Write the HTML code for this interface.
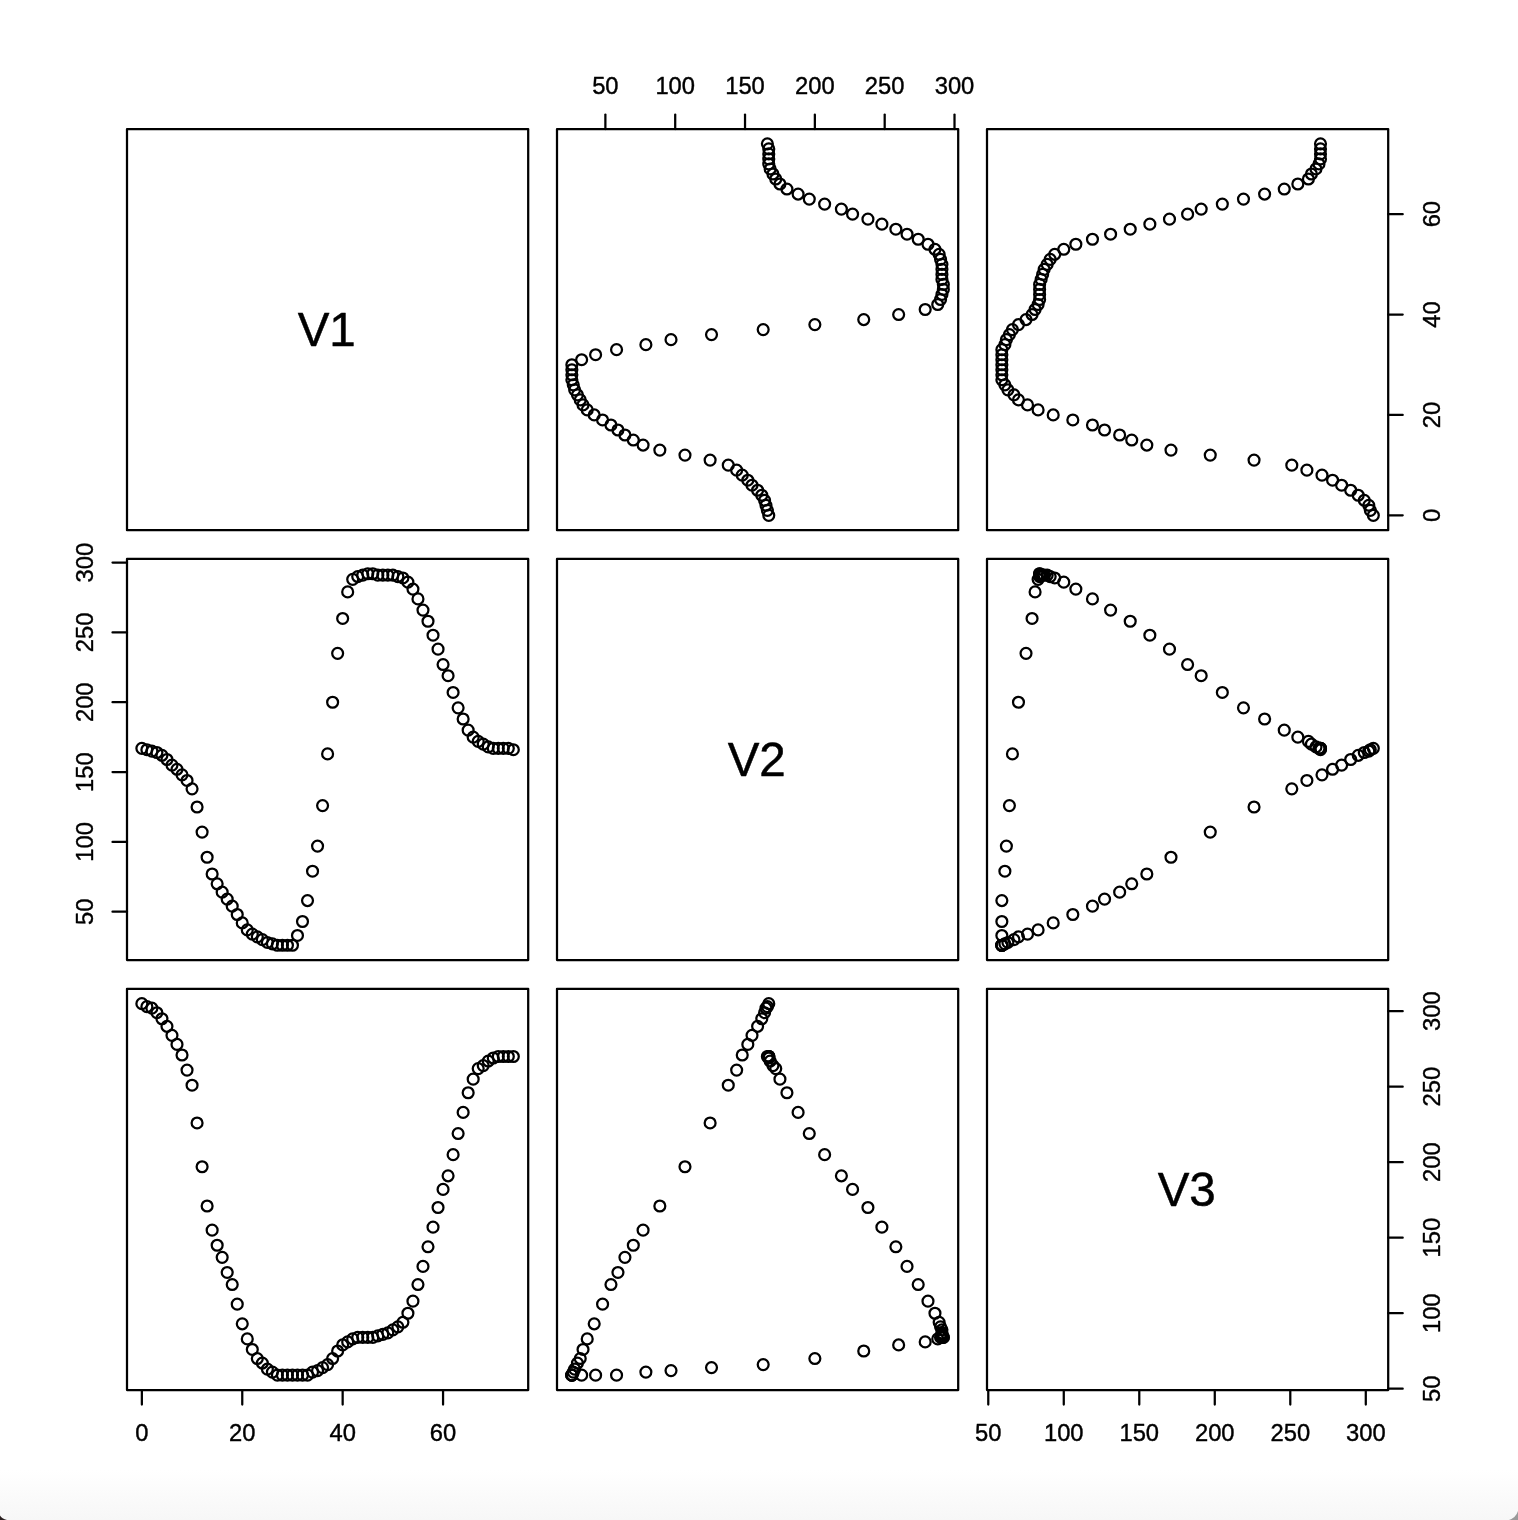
<!DOCTYPE html>
<html lang="en"><head><meta charset="utf-8"><title>pairs plot</title>
<style>html,body{margin:0;padding:0;background:#fff;}body{width:1518px;height:1520px;overflow:hidden;}svg{display:block;}</style>
</head><body>
<svg width="1518" height="1520" viewBox="0 0 1518 1520">
<defs><linearGradient id="g" x1="0" y1="0" x2="0" y2="1"><stop offset="0" stop-color="#ffffff"/><stop offset="1" stop-color="#f7f7f7"/></linearGradient></defs>
<rect x="0" y="0" width="1518" height="1520" fill="#ffffff"/>
<rect x="0" y="1470" width="1518" height="50" fill="url(#g)"/>
<path d="M0 1520 L0 1515.6 Q1.8 1519 7 1520 Z" fill="#2a1f1f"/>
<path d="M1518 1520 L1518 1511 Q1516 1517.5 1509 1520 Z" fill="#9a9a9a"/>
<g fill="none" stroke="#000" stroke-width="2.25" stroke-linejoin="round" stroke-linecap="round">
<rect x="127.00" y="129.00" width="401.20" height="401.20"/>
<rect x="557.00" y="129.00" width="401.20" height="401.20"/>
<rect x="987.00" y="129.00" width="401.20" height="401.20"/>
<rect x="127.00" y="558.90" width="401.20" height="401.20"/>
<rect x="557.00" y="558.90" width="401.20" height="401.20"/>
<rect x="987.00" y="558.90" width="401.20" height="401.20"/>
<rect x="127.00" y="988.80" width="401.20" height="401.20"/>
<rect x="557.00" y="988.80" width="401.20" height="401.20"/>
<rect x="987.00" y="988.80" width="401.20" height="401.20"/>
<path d="M605.38 129.00V114.50"/>
<path d="M675.20 129.00V114.50"/>
<path d="M745.03 129.00V114.50"/>
<path d="M814.86 129.00V114.50"/>
<path d="M884.69 129.00V114.50"/>
<path d="M954.51 129.00V114.50"/>
<path d="M141.86 1390.00V1404.50"/>
<path d="M242.26 1390.00V1404.50"/>
<path d="M342.66 1390.00V1404.50"/>
<path d="M443.06 1390.00V1404.50"/>
<path d="M988.27 1390.00V1404.50"/>
<path d="M1063.77 1390.00V1404.50"/>
<path d="M1139.28 1390.00V1404.50"/>
<path d="M1214.78 1390.00V1404.50"/>
<path d="M1290.29 1390.00V1404.50"/>
<path d="M1365.79 1390.00V1404.50"/>
<path d="M127.00 911.72H112.50"/>
<path d="M127.00 841.90H112.50"/>
<path d="M127.00 772.07H112.50"/>
<path d="M127.00 702.24H112.50"/>
<path d="M127.00 632.41H112.50"/>
<path d="M127.00 562.59H112.50"/>
<path d="M1388.20 515.34H1402.70"/>
<path d="M1388.20 414.94H1402.70"/>
<path d="M1388.20 314.54H1402.70"/>
<path d="M1388.20 214.14H1402.70"/>
<path d="M1388.20 1388.73H1402.70"/>
<path d="M1388.20 1313.23H1402.70"/>
<path d="M1388.20 1237.72H1402.70"/>
<path d="M1388.20 1162.22H1402.70"/>
<path d="M1388.20 1086.71H1402.70"/>
<path d="M1388.20 1011.21H1402.70"/>
</g>
<g fill="none" stroke="#000" stroke-width="2.25">
<circle cx="768.77" cy="515.34" r="5.45"/>
<circle cx="767.38" cy="510.32" r="5.45"/>
<circle cx="765.98" cy="505.30" r="5.45"/>
<circle cx="764.58" cy="500.28" r="5.45"/>
<circle cx="761.79" cy="495.26" r="5.45"/>
<circle cx="757.60" cy="490.24" r="5.45"/>
<circle cx="752.01" cy="485.22" r="5.45"/>
<circle cx="747.82" cy="480.20" r="5.45"/>
<circle cx="742.24" cy="475.18" r="5.45"/>
<circle cx="736.65" cy="470.16" r="5.45"/>
<circle cx="728.27" cy="465.14" r="5.45"/>
<circle cx="710.12" cy="460.12" r="5.45"/>
<circle cx="684.98" cy="455.10" r="5.45"/>
<circle cx="659.84" cy="450.08" r="5.45"/>
<circle cx="643.08" cy="445.06" r="5.45"/>
<circle cx="633.31" cy="440.04" r="5.45"/>
<circle cx="624.93" cy="435.02" r="5.45"/>
<circle cx="617.95" cy="430.00" r="5.45"/>
<circle cx="610.96" cy="424.98" r="5.45"/>
<circle cx="602.58" cy="419.96" r="5.45"/>
<circle cx="594.20" cy="414.94" r="5.45"/>
<circle cx="587.22" cy="409.92" r="5.45"/>
<circle cx="583.03" cy="404.90" r="5.45"/>
<circle cx="580.24" cy="399.88" r="5.45"/>
<circle cx="577.45" cy="394.86" r="5.45"/>
<circle cx="574.65" cy="389.84" r="5.45"/>
<circle cx="573.26" cy="384.82" r="5.45"/>
<circle cx="571.86" cy="379.80" r="5.45"/>
<circle cx="571.86" cy="374.78" r="5.45"/>
<circle cx="571.86" cy="369.76" r="5.45"/>
<circle cx="571.86" cy="364.74" r="5.45"/>
<circle cx="581.64" cy="359.72" r="5.45"/>
<circle cx="595.60" cy="354.70" r="5.45"/>
<circle cx="616.55" cy="349.68" r="5.45"/>
<circle cx="645.88" cy="344.66" r="5.45"/>
<circle cx="671.01" cy="339.64" r="5.45"/>
<circle cx="711.51" cy="334.62" r="5.45"/>
<circle cx="763.19" cy="329.60" r="5.45"/>
<circle cx="814.86" cy="324.58" r="5.45"/>
<circle cx="863.74" cy="319.56" r="5.45"/>
<circle cx="898.65" cy="314.54" r="5.45"/>
<circle cx="925.19" cy="309.52" r="5.45"/>
<circle cx="937.75" cy="304.50" r="5.45"/>
<circle cx="940.55" cy="299.48" r="5.45"/>
<circle cx="941.94" cy="294.46" r="5.45"/>
<circle cx="943.34" cy="289.44" r="5.45"/>
<circle cx="943.34" cy="284.42" r="5.45"/>
<circle cx="941.94" cy="279.40" r="5.45"/>
<circle cx="941.94" cy="274.38" r="5.45"/>
<circle cx="941.94" cy="269.36" r="5.45"/>
<circle cx="941.94" cy="264.34" r="5.45"/>
<circle cx="940.55" cy="259.32" r="5.45"/>
<circle cx="939.15" cy="254.30" r="5.45"/>
<circle cx="934.96" cy="249.28" r="5.45"/>
<circle cx="927.98" cy="244.26" r="5.45"/>
<circle cx="918.20" cy="239.24" r="5.45"/>
<circle cx="907.03" cy="234.22" r="5.45"/>
<circle cx="895.86" cy="229.20" r="5.45"/>
<circle cx="881.89" cy="224.18" r="5.45"/>
<circle cx="867.93" cy="219.16" r="5.45"/>
<circle cx="852.57" cy="214.14" r="5.45"/>
<circle cx="841.39" cy="209.12" r="5.45"/>
<circle cx="824.63" cy="204.10" r="5.45"/>
<circle cx="809.27" cy="199.08" r="5.45"/>
<circle cx="798.10" cy="194.06" r="5.45"/>
<circle cx="786.93" cy="189.04" r="5.45"/>
<circle cx="779.94" cy="184.02" r="5.45"/>
<circle cx="775.76" cy="179.00" r="5.45"/>
<circle cx="772.96" cy="173.98" r="5.45"/>
<circle cx="770.17" cy="168.96" r="5.45"/>
<circle cx="768.77" cy="163.94" r="5.45"/>
<circle cx="768.77" cy="158.92" r="5.45"/>
<circle cx="768.77" cy="153.90" r="5.45"/>
<circle cx="768.77" cy="148.88" r="5.45"/>
<circle cx="767.38" cy="143.86" r="5.45"/>
<circle cx="1373.34" cy="515.34" r="5.45"/>
<circle cx="1370.32" cy="510.32" r="5.45"/>
<circle cx="1368.81" cy="505.30" r="5.45"/>
<circle cx="1364.28" cy="500.28" r="5.45"/>
<circle cx="1358.24" cy="495.26" r="5.45"/>
<circle cx="1350.69" cy="490.24" r="5.45"/>
<circle cx="1341.63" cy="485.22" r="5.45"/>
<circle cx="1332.57" cy="480.20" r="5.45"/>
<circle cx="1322.00" cy="475.18" r="5.45"/>
<circle cx="1306.90" cy="470.16" r="5.45"/>
<circle cx="1291.80" cy="465.14" r="5.45"/>
<circle cx="1254.04" cy="460.12" r="5.45"/>
<circle cx="1210.25" cy="455.10" r="5.45"/>
<circle cx="1170.99" cy="450.08" r="5.45"/>
<circle cx="1146.83" cy="445.06" r="5.45"/>
<circle cx="1131.73" cy="440.04" r="5.45"/>
<circle cx="1119.65" cy="435.02" r="5.45"/>
<circle cx="1104.55" cy="430.00" r="5.45"/>
<circle cx="1092.46" cy="424.98" r="5.45"/>
<circle cx="1072.83" cy="419.96" r="5.45"/>
<circle cx="1053.20" cy="414.94" r="5.45"/>
<circle cx="1038.10" cy="409.92" r="5.45"/>
<circle cx="1027.53" cy="404.90" r="5.45"/>
<circle cx="1018.47" cy="399.88" r="5.45"/>
<circle cx="1013.94" cy="394.86" r="5.45"/>
<circle cx="1007.90" cy="389.84" r="5.45"/>
<circle cx="1004.88" cy="384.82" r="5.45"/>
<circle cx="1001.86" cy="379.80" r="5.45"/>
<circle cx="1001.86" cy="374.78" r="5.45"/>
<circle cx="1001.86" cy="369.76" r="5.45"/>
<circle cx="1001.86" cy="364.74" r="5.45"/>
<circle cx="1001.86" cy="359.72" r="5.45"/>
<circle cx="1001.86" cy="354.70" r="5.45"/>
<circle cx="1001.86" cy="349.68" r="5.45"/>
<circle cx="1004.88" cy="344.66" r="5.45"/>
<circle cx="1006.39" cy="339.64" r="5.45"/>
<circle cx="1009.41" cy="334.62" r="5.45"/>
<circle cx="1012.43" cy="329.60" r="5.45"/>
<circle cx="1018.47" cy="324.58" r="5.45"/>
<circle cx="1026.02" cy="319.56" r="5.45"/>
<circle cx="1032.06" cy="314.54" r="5.45"/>
<circle cx="1035.08" cy="309.52" r="5.45"/>
<circle cx="1038.10" cy="304.50" r="5.45"/>
<circle cx="1039.61" cy="299.48" r="5.45"/>
<circle cx="1039.61" cy="294.46" r="5.45"/>
<circle cx="1039.61" cy="289.44" r="5.45"/>
<circle cx="1039.61" cy="284.42" r="5.45"/>
<circle cx="1041.12" cy="279.40" r="5.45"/>
<circle cx="1042.63" cy="274.38" r="5.45"/>
<circle cx="1044.14" cy="269.36" r="5.45"/>
<circle cx="1047.16" cy="264.34" r="5.45"/>
<circle cx="1050.18" cy="259.32" r="5.45"/>
<circle cx="1054.71" cy="254.30" r="5.45"/>
<circle cx="1063.77" cy="249.28" r="5.45"/>
<circle cx="1075.85" cy="244.26" r="5.45"/>
<circle cx="1092.46" cy="239.24" r="5.45"/>
<circle cx="1110.59" cy="234.22" r="5.45"/>
<circle cx="1130.22" cy="229.20" r="5.45"/>
<circle cx="1149.85" cy="224.18" r="5.45"/>
<circle cx="1169.48" cy="219.16" r="5.45"/>
<circle cx="1187.60" cy="214.14" r="5.45"/>
<circle cx="1201.19" cy="209.12" r="5.45"/>
<circle cx="1222.33" cy="204.10" r="5.45"/>
<circle cx="1243.47" cy="199.08" r="5.45"/>
<circle cx="1264.61" cy="194.06" r="5.45"/>
<circle cx="1284.25" cy="189.04" r="5.45"/>
<circle cx="1297.84" cy="184.02" r="5.45"/>
<circle cx="1308.41" cy="179.00" r="5.45"/>
<circle cx="1311.43" cy="173.98" r="5.45"/>
<circle cx="1315.96" cy="168.96" r="5.45"/>
<circle cx="1318.98" cy="163.94" r="5.45"/>
<circle cx="1320.49" cy="158.92" r="5.45"/>
<circle cx="1320.49" cy="153.90" r="5.45"/>
<circle cx="1320.49" cy="148.88" r="5.45"/>
<circle cx="1320.49" cy="143.86" r="5.45"/>
<circle cx="141.86" cy="748.33" r="5.45"/>
<circle cx="146.88" cy="749.72" r="5.45"/>
<circle cx="151.90" cy="751.12" r="5.45"/>
<circle cx="156.92" cy="752.52" r="5.45"/>
<circle cx="161.94" cy="755.31" r="5.45"/>
<circle cx="166.96" cy="759.50" r="5.45"/>
<circle cx="171.98" cy="765.09" r="5.45"/>
<circle cx="177.00" cy="769.28" r="5.45"/>
<circle cx="182.02" cy="774.86" r="5.45"/>
<circle cx="187.04" cy="780.45" r="5.45"/>
<circle cx="192.06" cy="788.83" r="5.45"/>
<circle cx="197.08" cy="806.98" r="5.45"/>
<circle cx="202.10" cy="832.12" r="5.45"/>
<circle cx="207.12" cy="857.26" r="5.45"/>
<circle cx="212.14" cy="874.02" r="5.45"/>
<circle cx="217.16" cy="883.79" r="5.45"/>
<circle cx="222.18" cy="892.17" r="5.45"/>
<circle cx="227.20" cy="899.15" r="5.45"/>
<circle cx="232.22" cy="906.14" r="5.45"/>
<circle cx="237.24" cy="914.52" r="5.45"/>
<circle cx="242.26" cy="922.90" r="5.45"/>
<circle cx="247.28" cy="929.88" r="5.45"/>
<circle cx="252.30" cy="934.07" r="5.45"/>
<circle cx="257.32" cy="936.86" r="5.45"/>
<circle cx="262.34" cy="939.65" r="5.45"/>
<circle cx="267.36" cy="942.45" r="5.45"/>
<circle cx="272.38" cy="943.84" r="5.45"/>
<circle cx="277.40" cy="945.24" r="5.45"/>
<circle cx="282.42" cy="945.24" r="5.45"/>
<circle cx="287.44" cy="945.24" r="5.45"/>
<circle cx="292.46" cy="945.24" r="5.45"/>
<circle cx="297.48" cy="935.46" r="5.45"/>
<circle cx="302.50" cy="921.50" r="5.45"/>
<circle cx="307.52" cy="900.55" r="5.45"/>
<circle cx="312.54" cy="871.22" r="5.45"/>
<circle cx="317.56" cy="846.09" r="5.45"/>
<circle cx="322.58" cy="805.59" r="5.45"/>
<circle cx="327.60" cy="753.91" r="5.45"/>
<circle cx="332.62" cy="702.24" r="5.45"/>
<circle cx="337.64" cy="653.36" r="5.45"/>
<circle cx="342.66" cy="618.45" r="5.45"/>
<circle cx="347.68" cy="591.91" r="5.45"/>
<circle cx="352.70" cy="579.35" r="5.45"/>
<circle cx="357.72" cy="576.55" r="5.45"/>
<circle cx="362.74" cy="575.16" r="5.45"/>
<circle cx="367.76" cy="573.76" r="5.45"/>
<circle cx="372.78" cy="573.76" r="5.45"/>
<circle cx="377.80" cy="575.16" r="5.45"/>
<circle cx="382.82" cy="575.16" r="5.45"/>
<circle cx="387.84" cy="575.16" r="5.45"/>
<circle cx="392.86" cy="575.16" r="5.45"/>
<circle cx="397.88" cy="576.55" r="5.45"/>
<circle cx="402.90" cy="577.95" r="5.45"/>
<circle cx="407.92" cy="582.14" r="5.45"/>
<circle cx="412.94" cy="589.12" r="5.45"/>
<circle cx="417.96" cy="598.90" r="5.45"/>
<circle cx="422.98" cy="610.07" r="5.45"/>
<circle cx="428.00" cy="621.24" r="5.45"/>
<circle cx="433.02" cy="635.21" r="5.45"/>
<circle cx="438.04" cy="649.17" r="5.45"/>
<circle cx="443.06" cy="664.53" r="5.45"/>
<circle cx="448.08" cy="675.71" r="5.45"/>
<circle cx="453.10" cy="692.47" r="5.45"/>
<circle cx="458.12" cy="707.83" r="5.45"/>
<circle cx="463.14" cy="719.00" r="5.45"/>
<circle cx="468.16" cy="730.17" r="5.45"/>
<circle cx="473.18" cy="737.16" r="5.45"/>
<circle cx="478.20" cy="741.34" r="5.45"/>
<circle cx="483.22" cy="744.14" r="5.45"/>
<circle cx="488.24" cy="746.93" r="5.45"/>
<circle cx="493.26" cy="748.33" r="5.45"/>
<circle cx="498.28" cy="748.33" r="5.45"/>
<circle cx="503.30" cy="748.33" r="5.45"/>
<circle cx="508.32" cy="748.33" r="5.45"/>
<circle cx="513.34" cy="749.72" r="5.45"/>
<circle cx="1373.34" cy="748.33" r="5.45"/>
<circle cx="1370.32" cy="749.72" r="5.45"/>
<circle cx="1368.81" cy="751.12" r="5.45"/>
<circle cx="1364.28" cy="752.52" r="5.45"/>
<circle cx="1358.24" cy="755.31" r="5.45"/>
<circle cx="1350.69" cy="759.50" r="5.45"/>
<circle cx="1341.63" cy="765.09" r="5.45"/>
<circle cx="1332.57" cy="769.28" r="5.45"/>
<circle cx="1322.00" cy="774.86" r="5.45"/>
<circle cx="1306.90" cy="780.45" r="5.45"/>
<circle cx="1291.80" cy="788.83" r="5.45"/>
<circle cx="1254.04" cy="806.98" r="5.45"/>
<circle cx="1210.25" cy="832.12" r="5.45"/>
<circle cx="1170.99" cy="857.26" r="5.45"/>
<circle cx="1146.83" cy="874.02" r="5.45"/>
<circle cx="1131.73" cy="883.79" r="5.45"/>
<circle cx="1119.65" cy="892.17" r="5.45"/>
<circle cx="1104.55" cy="899.15" r="5.45"/>
<circle cx="1092.46" cy="906.14" r="5.45"/>
<circle cx="1072.83" cy="914.52" r="5.45"/>
<circle cx="1053.20" cy="922.90" r="5.45"/>
<circle cx="1038.10" cy="929.88" r="5.45"/>
<circle cx="1027.53" cy="934.07" r="5.45"/>
<circle cx="1018.47" cy="936.86" r="5.45"/>
<circle cx="1013.94" cy="939.65" r="5.45"/>
<circle cx="1007.90" cy="942.45" r="5.45"/>
<circle cx="1004.88" cy="943.84" r="5.45"/>
<circle cx="1001.86" cy="945.24" r="5.45"/>
<circle cx="1001.86" cy="945.24" r="5.45"/>
<circle cx="1001.86" cy="945.24" r="5.45"/>
<circle cx="1001.86" cy="945.24" r="5.45"/>
<circle cx="1001.86" cy="935.46" r="5.45"/>
<circle cx="1001.86" cy="921.50" r="5.45"/>
<circle cx="1001.86" cy="900.55" r="5.45"/>
<circle cx="1004.88" cy="871.22" r="5.45"/>
<circle cx="1006.39" cy="846.09" r="5.45"/>
<circle cx="1009.41" cy="805.59" r="5.45"/>
<circle cx="1012.43" cy="753.91" r="5.45"/>
<circle cx="1018.47" cy="702.24" r="5.45"/>
<circle cx="1026.02" cy="653.36" r="5.45"/>
<circle cx="1032.06" cy="618.45" r="5.45"/>
<circle cx="1035.08" cy="591.91" r="5.45"/>
<circle cx="1038.10" cy="579.35" r="5.45"/>
<circle cx="1039.61" cy="576.55" r="5.45"/>
<circle cx="1039.61" cy="575.16" r="5.45"/>
<circle cx="1039.61" cy="573.76" r="5.45"/>
<circle cx="1039.61" cy="573.76" r="5.45"/>
<circle cx="1041.12" cy="575.16" r="5.45"/>
<circle cx="1042.63" cy="575.16" r="5.45"/>
<circle cx="1044.14" cy="575.16" r="5.45"/>
<circle cx="1047.16" cy="575.16" r="5.45"/>
<circle cx="1050.18" cy="576.55" r="5.45"/>
<circle cx="1054.71" cy="577.95" r="5.45"/>
<circle cx="1063.77" cy="582.14" r="5.45"/>
<circle cx="1075.85" cy="589.12" r="5.45"/>
<circle cx="1092.46" cy="598.90" r="5.45"/>
<circle cx="1110.59" cy="610.07" r="5.45"/>
<circle cx="1130.22" cy="621.24" r="5.45"/>
<circle cx="1149.85" cy="635.21" r="5.45"/>
<circle cx="1169.48" cy="649.17" r="5.45"/>
<circle cx="1187.60" cy="664.53" r="5.45"/>
<circle cx="1201.19" cy="675.71" r="5.45"/>
<circle cx="1222.33" cy="692.47" r="5.45"/>
<circle cx="1243.47" cy="707.83" r="5.45"/>
<circle cx="1264.61" cy="719.00" r="5.45"/>
<circle cx="1284.25" cy="730.17" r="5.45"/>
<circle cx="1297.84" cy="737.16" r="5.45"/>
<circle cx="1308.41" cy="741.34" r="5.45"/>
<circle cx="1311.43" cy="744.14" r="5.45"/>
<circle cx="1315.96" cy="746.93" r="5.45"/>
<circle cx="1318.98" cy="748.33" r="5.45"/>
<circle cx="1320.49" cy="748.33" r="5.45"/>
<circle cx="1320.49" cy="748.33" r="5.45"/>
<circle cx="1320.49" cy="748.33" r="5.45"/>
<circle cx="1320.49" cy="749.72" r="5.45"/>
<circle cx="141.86" cy="1003.66" r="5.45"/>
<circle cx="146.88" cy="1006.68" r="5.45"/>
<circle cx="151.90" cy="1008.19" r="5.45"/>
<circle cx="156.92" cy="1012.72" r="5.45"/>
<circle cx="161.94" cy="1018.76" r="5.45"/>
<circle cx="166.96" cy="1026.31" r="5.45"/>
<circle cx="171.98" cy="1035.37" r="5.45"/>
<circle cx="177.00" cy="1044.43" r="5.45"/>
<circle cx="182.02" cy="1055.00" r="5.45"/>
<circle cx="187.04" cy="1070.10" r="5.45"/>
<circle cx="192.06" cy="1085.20" r="5.45"/>
<circle cx="197.08" cy="1122.96" r="5.45"/>
<circle cx="202.10" cy="1166.75" r="5.45"/>
<circle cx="207.12" cy="1206.01" r="5.45"/>
<circle cx="212.14" cy="1230.17" r="5.45"/>
<circle cx="217.16" cy="1245.27" r="5.45"/>
<circle cx="222.18" cy="1257.35" r="5.45"/>
<circle cx="227.20" cy="1272.45" r="5.45"/>
<circle cx="232.22" cy="1284.54" r="5.45"/>
<circle cx="237.24" cy="1304.17" r="5.45"/>
<circle cx="242.26" cy="1323.80" r="5.45"/>
<circle cx="247.28" cy="1338.90" r="5.45"/>
<circle cx="252.30" cy="1349.47" r="5.45"/>
<circle cx="257.32" cy="1358.53" r="5.45"/>
<circle cx="262.34" cy="1363.06" r="5.45"/>
<circle cx="267.36" cy="1369.10" r="5.45"/>
<circle cx="272.38" cy="1372.12" r="5.45"/>
<circle cx="277.40" cy="1375.14" r="5.45"/>
<circle cx="282.42" cy="1375.14" r="5.45"/>
<circle cx="287.44" cy="1375.14" r="5.45"/>
<circle cx="292.46" cy="1375.14" r="5.45"/>
<circle cx="297.48" cy="1375.14" r="5.45"/>
<circle cx="302.50" cy="1375.14" r="5.45"/>
<circle cx="307.52" cy="1375.14" r="5.45"/>
<circle cx="312.54" cy="1372.12" r="5.45"/>
<circle cx="317.56" cy="1370.61" r="5.45"/>
<circle cx="322.58" cy="1367.59" r="5.45"/>
<circle cx="327.60" cy="1364.57" r="5.45"/>
<circle cx="332.62" cy="1358.53" r="5.45"/>
<circle cx="337.64" cy="1350.98" r="5.45"/>
<circle cx="342.66" cy="1344.94" r="5.45"/>
<circle cx="347.68" cy="1341.92" r="5.45"/>
<circle cx="352.70" cy="1338.90" r="5.45"/>
<circle cx="357.72" cy="1337.39" r="5.45"/>
<circle cx="362.74" cy="1337.39" r="5.45"/>
<circle cx="367.76" cy="1337.39" r="5.45"/>
<circle cx="372.78" cy="1337.39" r="5.45"/>
<circle cx="377.80" cy="1335.88" r="5.45"/>
<circle cx="382.82" cy="1334.37" r="5.45"/>
<circle cx="387.84" cy="1332.86" r="5.45"/>
<circle cx="392.86" cy="1329.84" r="5.45"/>
<circle cx="397.88" cy="1326.82" r="5.45"/>
<circle cx="402.90" cy="1322.29" r="5.45"/>
<circle cx="407.92" cy="1313.23" r="5.45"/>
<circle cx="412.94" cy="1301.15" r="5.45"/>
<circle cx="417.96" cy="1284.54" r="5.45"/>
<circle cx="422.98" cy="1266.41" r="5.45"/>
<circle cx="428.00" cy="1246.78" r="5.45"/>
<circle cx="433.02" cy="1227.15" r="5.45"/>
<circle cx="438.04" cy="1207.52" r="5.45"/>
<circle cx="443.06" cy="1189.40" r="5.45"/>
<circle cx="448.08" cy="1175.81" r="5.45"/>
<circle cx="453.10" cy="1154.67" r="5.45"/>
<circle cx="458.12" cy="1133.53" r="5.45"/>
<circle cx="463.14" cy="1112.39" r="5.45"/>
<circle cx="468.16" cy="1092.75" r="5.45"/>
<circle cx="473.18" cy="1079.16" r="5.45"/>
<circle cx="478.20" cy="1068.59" r="5.45"/>
<circle cx="483.22" cy="1065.57" r="5.45"/>
<circle cx="488.24" cy="1061.04" r="5.45"/>
<circle cx="493.26" cy="1058.02" r="5.45"/>
<circle cx="498.28" cy="1056.51" r="5.45"/>
<circle cx="503.30" cy="1056.51" r="5.45"/>
<circle cx="508.32" cy="1056.51" r="5.45"/>
<circle cx="513.34" cy="1056.51" r="5.45"/>
<circle cx="768.77" cy="1003.66" r="5.45"/>
<circle cx="767.38" cy="1006.68" r="5.45"/>
<circle cx="765.98" cy="1008.19" r="5.45"/>
<circle cx="764.58" cy="1012.72" r="5.45"/>
<circle cx="761.79" cy="1018.76" r="5.45"/>
<circle cx="757.60" cy="1026.31" r="5.45"/>
<circle cx="752.01" cy="1035.37" r="5.45"/>
<circle cx="747.82" cy="1044.43" r="5.45"/>
<circle cx="742.24" cy="1055.00" r="5.45"/>
<circle cx="736.65" cy="1070.10" r="5.45"/>
<circle cx="728.27" cy="1085.20" r="5.45"/>
<circle cx="710.12" cy="1122.96" r="5.45"/>
<circle cx="684.98" cy="1166.75" r="5.45"/>
<circle cx="659.84" cy="1206.01" r="5.45"/>
<circle cx="643.08" cy="1230.17" r="5.45"/>
<circle cx="633.31" cy="1245.27" r="5.45"/>
<circle cx="624.93" cy="1257.35" r="5.45"/>
<circle cx="617.95" cy="1272.45" r="5.45"/>
<circle cx="610.96" cy="1284.54" r="5.45"/>
<circle cx="602.58" cy="1304.17" r="5.45"/>
<circle cx="594.20" cy="1323.80" r="5.45"/>
<circle cx="587.22" cy="1338.90" r="5.45"/>
<circle cx="583.03" cy="1349.47" r="5.45"/>
<circle cx="580.24" cy="1358.53" r="5.45"/>
<circle cx="577.45" cy="1363.06" r="5.45"/>
<circle cx="574.65" cy="1369.10" r="5.45"/>
<circle cx="573.26" cy="1372.12" r="5.45"/>
<circle cx="571.86" cy="1375.14" r="5.45"/>
<circle cx="571.86" cy="1375.14" r="5.45"/>
<circle cx="571.86" cy="1375.14" r="5.45"/>
<circle cx="571.86" cy="1375.14" r="5.45"/>
<circle cx="581.64" cy="1375.14" r="5.45"/>
<circle cx="595.60" cy="1375.14" r="5.45"/>
<circle cx="616.55" cy="1375.14" r="5.45"/>
<circle cx="645.88" cy="1372.12" r="5.45"/>
<circle cx="671.01" cy="1370.61" r="5.45"/>
<circle cx="711.51" cy="1367.59" r="5.45"/>
<circle cx="763.19" cy="1364.57" r="5.45"/>
<circle cx="814.86" cy="1358.53" r="5.45"/>
<circle cx="863.74" cy="1350.98" r="5.45"/>
<circle cx="898.65" cy="1344.94" r="5.45"/>
<circle cx="925.19" cy="1341.92" r="5.45"/>
<circle cx="937.75" cy="1338.90" r="5.45"/>
<circle cx="940.55" cy="1337.39" r="5.45"/>
<circle cx="941.94" cy="1337.39" r="5.45"/>
<circle cx="943.34" cy="1337.39" r="5.45"/>
<circle cx="943.34" cy="1337.39" r="5.45"/>
<circle cx="941.94" cy="1335.88" r="5.45"/>
<circle cx="941.94" cy="1334.37" r="5.45"/>
<circle cx="941.94" cy="1332.86" r="5.45"/>
<circle cx="941.94" cy="1329.84" r="5.45"/>
<circle cx="940.55" cy="1326.82" r="5.45"/>
<circle cx="939.15" cy="1322.29" r="5.45"/>
<circle cx="934.96" cy="1313.23" r="5.45"/>
<circle cx="927.98" cy="1301.15" r="5.45"/>
<circle cx="918.20" cy="1284.54" r="5.45"/>
<circle cx="907.03" cy="1266.41" r="5.45"/>
<circle cx="895.86" cy="1246.78" r="5.45"/>
<circle cx="881.89" cy="1227.15" r="5.45"/>
<circle cx="867.93" cy="1207.52" r="5.45"/>
<circle cx="852.57" cy="1189.40" r="5.45"/>
<circle cx="841.39" cy="1175.81" r="5.45"/>
<circle cx="824.63" cy="1154.67" r="5.45"/>
<circle cx="809.27" cy="1133.53" r="5.45"/>
<circle cx="798.10" cy="1112.39" r="5.45"/>
<circle cx="786.93" cy="1092.75" r="5.45"/>
<circle cx="779.94" cy="1079.16" r="5.45"/>
<circle cx="775.76" cy="1068.59" r="5.45"/>
<circle cx="772.96" cy="1065.57" r="5.45"/>
<circle cx="770.17" cy="1061.04" r="5.45"/>
<circle cx="768.77" cy="1058.02" r="5.45"/>
<circle cx="768.77" cy="1056.51" r="5.45"/>
<circle cx="768.77" cy="1056.51" r="5.45"/>
<circle cx="768.77" cy="1056.51" r="5.45"/>
<circle cx="767.38" cy="1056.51" r="5.45"/>
</g>
<g font-family="'Liberation Sans', sans-serif" font-size="23.76" fill="#000" stroke="#000" stroke-width="0.4" stroke-linejoin="round" text-anchor="middle">
<text x="605.38" y="93.8">50</text>
<text x="675.20" y="93.8">100</text>
<text x="745.03" y="93.8">150</text>
<text x="814.86" y="93.8">200</text>
<text x="884.69" y="93.8">250</text>
<text x="954.51" y="93.8">300</text>
<text x="141.86" y="1440.6">0</text>
<text x="242.26" y="1440.6">20</text>
<text x="342.66" y="1440.6">40</text>
<text x="443.06" y="1440.6">60</text>
<text x="988.27" y="1440.6">50</text>
<text x="1063.77" y="1440.6">100</text>
<text x="1139.28" y="1440.6">150</text>
<text x="1214.78" y="1440.6">200</text>
<text x="1290.29" y="1440.6">250</text>
<text x="1365.79" y="1440.6">300</text>
<text transform="translate(92.9 911.72) rotate(-90)">50</text>
<text transform="translate(92.9 841.90) rotate(-90)">100</text>
<text transform="translate(92.9 772.07) rotate(-90)">150</text>
<text transform="translate(92.9 702.24) rotate(-90)">200</text>
<text transform="translate(92.9 632.41) rotate(-90)">250</text>
<text transform="translate(92.9 562.59) rotate(-90)">300</text>
<text transform="translate(1440.3 515.34) rotate(-90)">0</text>
<text transform="translate(1440.3 414.94) rotate(-90)">20</text>
<text transform="translate(1440.3 314.54) rotate(-90)">40</text>
<text transform="translate(1440.3 214.14) rotate(-90)">60</text>
<text transform="translate(1440.3 1388.73) rotate(-90)">50</text>
<text transform="translate(1440.3 1313.23) rotate(-90)">100</text>
<text transform="translate(1440.3 1237.72) rotate(-90)">150</text>
<text transform="translate(1440.3 1162.22) rotate(-90)">200</text>
<text transform="translate(1440.3 1086.71) rotate(-90)">250</text>
<text transform="translate(1440.3 1011.21) rotate(-90)">300</text>
</g>
<g font-family="'Liberation Sans', sans-serif" font-size="47.52" fill="#000" stroke="#000" stroke-width="0.5" stroke-linejoin="round" text-anchor="middle">
<text transform="translate(326.70 345.90) scale(1 1.03)">V1</text>
<text transform="translate(756.70 775.80) scale(1 1.03)">V2</text>
<text transform="translate(1186.70 1205.70) scale(1 1.03)">V3</text>
</g>
</svg>
</body></html>
